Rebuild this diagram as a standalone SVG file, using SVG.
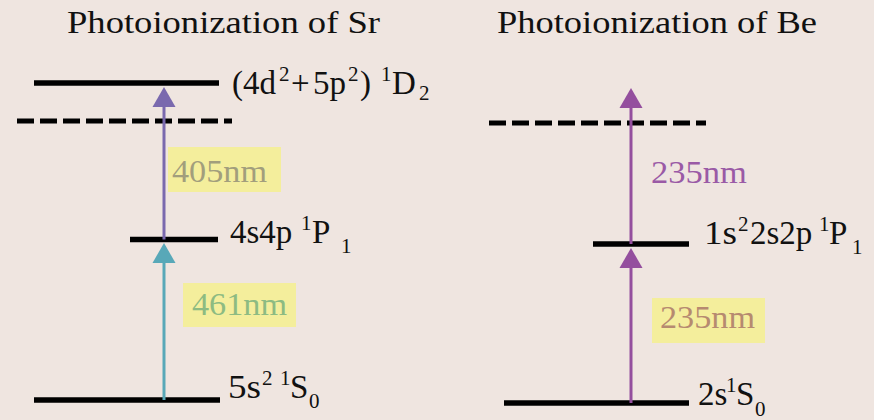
<svg xmlns="http://www.w3.org/2000/svg" width="874" height="420" viewBox="0 0 874 420">
<style>
text{font-family:'Liberation Serif','Times New Roman',serif;fill:#111}
.title{font-size:32px}
.lbl{font-size:33px}
.sup{font-size:21px}
.lvl{stroke:#000;stroke-width:5.5;fill:none}
.dash{stroke:#000;stroke-width:5;stroke-dasharray:17 6;fill:none}
.arr{stroke-width:3;fill:none}
.hl{fill:#F4EE9C}
.wl{font-size:31px}
</style>
<defs>
<marker id="hPurple" markerUnits="userSpaceOnUse" markerWidth="20" markerHeight="24" refX="0" refY="11.5" orient="auto" viewBox="0 0 20 23"><path d="M0,0 L20,11.5 L0,23 z" fill="#7A69AE"/></marker>
<marker id="hCyan" markerUnits="userSpaceOnUse" markerWidth="20" markerHeight="24" refX="0" refY="11.5" orient="auto" viewBox="0 0 20 23"><path d="M0,0 L20,11.5 L0,23 z" fill="#58A8B8"/></marker>
<marker id="hViolet" markerUnits="userSpaceOnUse" markerWidth="20" markerHeight="24" refX="0" refY="11.5" orient="auto" viewBox="0 0 20 23"><path d="M0,0 L20,11.5 L0,23 z" fill="#944F9E"/></marker>
</defs>
<rect width="874" height="420" fill="#EFE5E0"/>
<text class="title" x="67" y="33" textLength="313" lengthAdjust="spacingAndGlyphs">Photoionization of Sr</text>
<text class="title" x="497" y="33" textLength="320" lengthAdjust="spacingAndGlyphs">Photoionization of Be</text>

<g id="sr-1D2">
<line class="lvl" x1="34" y1="83" x2="219" y2="83"/>
<text class="lbl" y="94"><tspan x="232">(4d</tspan><tspan class="sup" x="279" dy="-13">2</tspan><tspan x="291" dy="13">+</tspan><tspan x="313">5p</tspan><tspan class="sup" x="348" dy="-13">2</tspan><tspan x="360" dy="13">)</tspan><tspan class="sup" x="381" dy="-13">1</tspan><tspan x="392" dy="13">D</tspan><tspan class="sup" x="419" dy="6">2</tspan></text>
</g>
<g id="sr-ion">
<line class="dash" x1="17" y1="121" x2="232" y2="121"/>
</g>
<g id="sr-1P1">
<line class="lvl" x1="130" y1="239.5" x2="218" y2="239.5"/>
<text class="lbl" y="243"><tspan x="230">4s4p</tspan><tspan class="sup" x="301" dy="-13">1</tspan><tspan x="312" dy="13">P</tspan><tspan class="sup" x="341" dy="10">1</tspan></text>
</g>
<g id="sr-1S0">
<line class="lvl" x1="34" y1="400" x2="220" y2="400"/>
<text class="lbl" y="398"><tspan x="228" textLength="33" lengthAdjust="spacingAndGlyphs">5s</tspan><tspan class="sup" x="262" dy="-13">2</tspan><tspan class="sup" x="280">1</tspan><tspan x="290" dy="13">S</tspan><tspan class="sup" x="309" dy="10">0</tspan></text>
</g>

<g id="be-ion">
<line class="dash" x1="489" y1="123" x2="706" y2="123"/>
</g>
<g id="be-1P1">
<line class="lvl" x1="593" y1="244" x2="689" y2="244"/>
<text class="lbl" y="244"><tspan x="704" textLength="33" lengthAdjust="spacingAndGlyphs">1s</tspan><tspan class="sup" x="738" dy="-13">2</tspan><tspan x="750" dy="13">2s2p</tspan><tspan class="sup" x="819" dy="-13">1</tspan><tspan x="829" dy="13">P</tspan><tspan class="sup" x="852" dy="10">1</tspan></text>
</g>
<g id="be-1S0">
<line class="lvl" x1="504" y1="403" x2="689" y2="403"/>
<text class="lbl" y="405"><tspan x="698">2s</tspan><tspan class="sup" x="726" dy="-13">1</tspan><tspan x="736" dy="13">S</tspan><tspan class="sup" x="755" dy="11">0</tspan></text>
</g>

<g id="connectors">
<line class="arr" stroke="#7A69AE" x1="164" y1="239.5" x2="164" y2="107" marker-end="url(#hPurple)"/>
<line class="arr" stroke="#58A8B8" x1="164" y1="400" x2="164" y2="263" marker-end="url(#hCyan)"/>
<line class="arr" stroke="#944F9E" x1="631" y1="244" x2="631" y2="108" marker-end="url(#hViolet)"/>
<line class="arr" stroke="#944F9E" x1="631" y1="403" x2="631" y2="268" marker-end="url(#hViolet)"/>
<rect class="hl" x="168" y="147" width="113" height="45"/>
<text class="wl" x="172" y="182" textLength="95" lengthAdjust="spacingAndGlyphs" style="fill:#A29E7C">405nm</text>
<rect class="hl" x="183" y="283" width="113" height="44"/>
<text class="wl" x="192" y="315" textLength="95" lengthAdjust="spacingAndGlyphs" style="fill:#8DBB82">461nm</text>
<text class="wl" x="651" y="183" textLength="96" lengthAdjust="spacingAndGlyphs" style="fill:#9A5AA6">235nm</text>
<rect class="hl" x="652" y="298" width="113" height="45"/>
<text class="wl" x="660" y="328" textLength="95" lengthAdjust="spacingAndGlyphs" style="fill:#B68A70">235nm</text>
</g>
</svg>
